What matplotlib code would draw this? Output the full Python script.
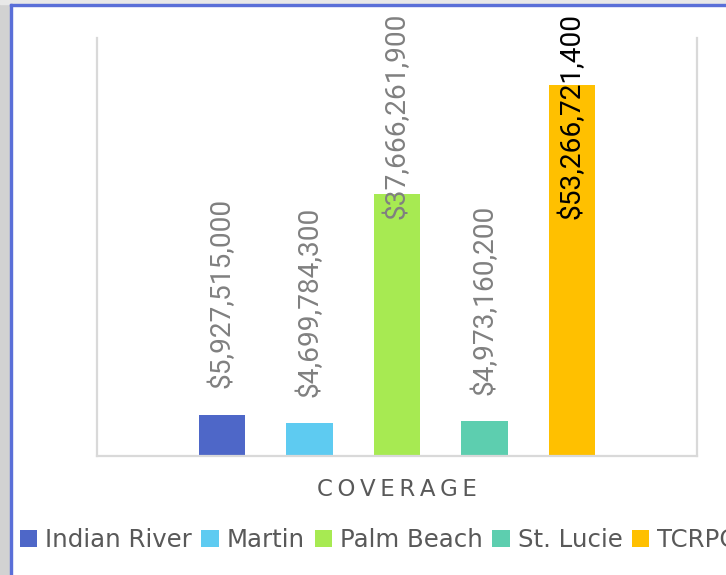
import matplotlib
matplotlib.use("Agg")
import matplotlib.pyplot as plt
from matplotlib.patches import Rectangle
import numpy as np

# data
counties = ["Indian River", "Martin", "Palm Beach", "St. Lucie", "TCRPC"]
coverage = [5927515000, 4699784300, 37666261900, 4973160200, 53266721400]
colors   = ["#4e67c8", "#5ecbf1", "#a7ea52", "#5dceaf", "#ffc000"]
lbl_col  = ["#808080", "#808080", "#808080", "#808080", "#000000"]
category = "COVERAGE"

TXT = "#595959"
GRID = "#d9d9d9"

fig = plt.figure(figsize=(7.26, 5.75), dpi=100)
fig.patch.set_facecolor("white")

# slide frame: grey strips + blue border
W, H = 726, 575
fig.patches.append(Rectangle((0, 0), 10/W, 1, transform=fig.transFigure,
                             color="#d2d2d2", zorder=0))
fig.patches.append(Rectangle((0, 1-4/H), 1, 4/H, transform=fig.transFigure,
                             color="#e8e8e8", zorder=0))
fig.patches.append(Rectangle((10/W, 0), 2/W, 1-4/H, transform=fig.transFigure,
                             color="#5a6fd8", zorder=1))
fig.patches.append(Rectangle((10/W, 1-6/H), 1, 2/H, transform=fig.transFigure,
                             color="#5a6fd8", zorder=1))

ax = fig.add_axes([97/W, 1-456/H, 600/W, 418/H])
ax.set_facecolor("white")

x = np.arange(len(counties))
ymax = 60e9
bars = ax.bar(x, coverage, width=0.537, color=colors, zorder=2)

ax.set_ylim(0, ymax)
ax.set_xlim(2 - 3.4286, 2 + 3.4286)
ax.set_xticks([]); ax.set_yticks([])
for s in ["left", "right", "bottom"]:
    ax.spines[s].set_color(GRID)
    ax.spines[s].set_linewidth(1.6)
ax.spines["top"].set_visible(False)

# data labels, rotated; tall ones get pushed down to fit
for xi, v, c in zip(x, coverage, lbl_col):
    txt = f"${v:,.0f}"
    if v > 0.5 * ymax:
        ax.annotate(txt, (xi, 1), xycoords=("data", "axes fraction"),
                    xytext=(0, 18), textcoords="offset points",
                    rotation=90, ha="center", va="top",
                    fontsize=20.2, family="Roboto", color=c, zorder=3)
    else:
        ax.annotate(txt, (xi, v), xytext=(0, 19), textcoords="offset points",
                    rotation=90, ha="center", va="bottom",
                    fontsize=20.2, family="Roboto", color=c, zorder=3)

ax.text(0.5, -0.079, "\u2009".join(category), transform=ax.transAxes,
        ha="center", va="center", fontsize=16.5, color=TXT)

leg = fig.legend(bars, counties, loc="center left", bbox_to_anchor=(10/W, 35/H),
                 ncol=5, frameon=False, fontsize=17.6, labelcolor=TXT,
                 handlelength=0.7, handleheight=0.7, handletextpad=0.33,
                 columnspacing=0.4, borderaxespad=0)

plt.savefig("out.png", dpi=100, facecolor="white")
plt.close()
